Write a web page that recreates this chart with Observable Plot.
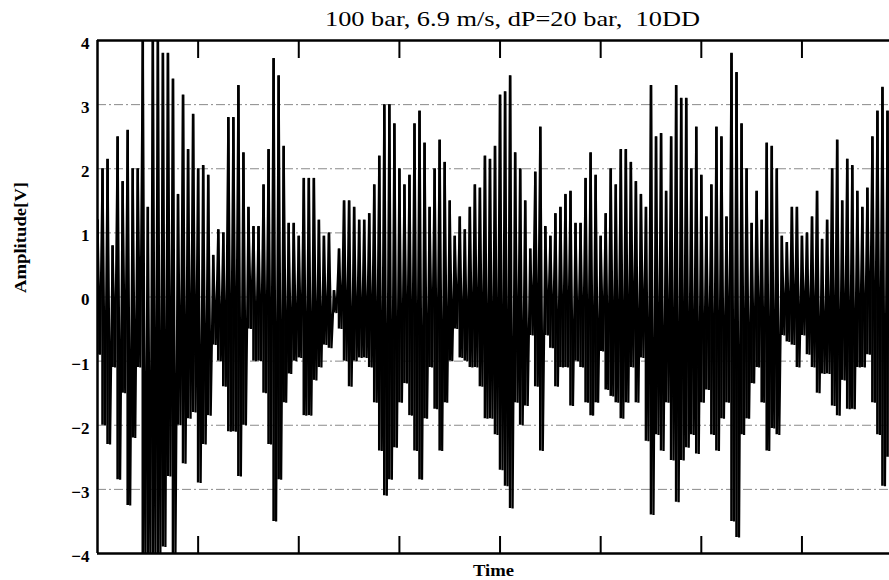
<!DOCTYPE html>
<html>
<head>
<meta charset="utf-8">
<script src="https://cdn.jsdelivr.net/npm/d3@7"></script>
<script src="https://cdn.jsdelivr.net/npm/@observablehq/plot@0.6"></script>
<style>
  html, body { margin: 0; padding: 0; background: white; overflow: hidden; }
</style>
</head>
<body>
<div id="chart"></div>
<script>
const title = "100 bar, 6.9 m/s, dP=20 bar,  10DD";
const xLabel = "Time";
const yLabel = "Amplitude[V]";
const yExtent = [-4, 4];
const yTicks = [-4, -3, -2, -1, 0, 1, 2, 3, 4];
const gridValues = [-3, -2, -1, 0, 1, 2, 3];
const xTicks = [100, 200, 300, 400, 500, 600, 700];
const xDomain = [0, 787];
const sampleStep = 5;

// positive peak envelope, one value per sample
const upper = [
  1.2, 2.0, 2.15, 0.8, 2.5, 1.8, 2.6, 2.0, 2.0, 4.0,
  1.4, 4.0, 4.0, 3.8, 3.8, 3.4, 1.6, 3.15, 2.3, 2.85,
  2.0, 2.05, 1.9, 0.65, 1.05, 1.0, 2.8, 2.8, 3.3, 2.25,
  1.4, 1.1, 1.1, 1.75, 2.3, 3.72, 3.45, 2.35, 1.15, 1.15,
  0.95, 1.85, 1.85, 1.85, 1.2, 0.95, 1.0, 0.1, 0.75, 1.5,
  1.5, 1.4, 1.2, 1.2, 1.3, 1.75, 2.2, 3.0, 3.0, 2.7,
  2.0, 1.75, 1.9, 2.7, 2.9, 2.4, 1.4, 2.0, 2.45, 2.1,
  1.5, 0.95, 1.25, 1.05, 1.4, 1.75, 1.7, 2.2, 2.15, 2.35,
  3.15, 3.2, 3.45, 2.25, 2.0, 1.5, 0.75, 1.95, 2.65, 1.1,
  0.95, 1.3, 1.4, 1.6, 1.65, 1.15, 1.15, 1.85, 2.25, 1.9,
  0.95, 1.3, 2.0, 1.75, 2.3, 2.3, 2.1, 1.8, 1.6, 1.4,
  3.3, 2.5, 2.55, 1.65, 2.5, 3.3, 3.1, 3.1, 2.0, 2.65,
  1.9, 1.25, 1.75, 2.65, 2.5, 1.25, 3.8, 3.5, 2.7, 2.0,
  1.15, 1.65, 1.2, 2.4, 2.35, 2.0, 0.95, 0.85, 1.4, 1.4,
  0.95, 1.0, 1.25, 1.65, 0.9, 1.2, 2.0, 2.45, 1.5, 2.15,
  2.05, 1.65, 1.4, 1.7, 2.5, 2.9, 3.27, 2.9, 2.1
];

// negative peak envelope, one value per sample
const lower = [
  -0.9, -2.0, -2.3, -1.1, -2.85, -1.5, -3.25, -2.2, -1.1, -4.0,
  -4.0, -4.0, -4.0, -3.9, -2.8, -4.0, -2.0, -2.6, -1.9, -1.8,
  -2.9, -2.3, -1.85, -0.75, -1.0, -1.4, -2.1, -2.1, -2.8, -2.0,
  -0.5, -1.0, -1.0, -1.5, -2.3, -3.5, -2.85, -1.65, -1.2, -1.0,
  -0.95, -1.85, -1.85, -1.3, -1.1, -0.75, -0.8, -0.25, -0.5, -1.0,
  -1.4, -1.0, -0.95, -0.95, -1.1, -1.65, -2.4, -3.1, -2.85, -2.35,
  -1.65, -1.35, -1.85, -2.4, -2.85, -1.9, -1.1, -1.75, -2.4, -1.65,
  -1.0, -0.5, -0.95, -1.0, -1.1, -1.1, -1.4, -1.9, -1.9, -2.15,
  -2.7, -2.95, -3.3, -1.65, -2.0, -1.7, -0.6, -1.4, -2.4, -0.6,
  -0.8, -1.4, -1.1, -1.1, -1.7, -1.0, -1.1, -1.65, -1.85, -1.65,
  -0.85, -1.45, -1.55, -1.65, -1.9, -1.65, -1.1, -1.65, -0.95, -2.25,
  -3.4, -2.15, -2.4, -1.65, -2.55, -3.2, -2.55, -2.35, -2.15, -2.45,
  -1.65, -1.45, -2.15, -2.4, -1.9, -1.65, -3.5, -3.75, -2.15, -1.9,
  -1.35, -1.1, -1.65, -2.4, -2.05, -2.15, -0.6, -0.7, -0.75, -1.1,
  -0.6, -0.9, -1.1, -1.5, -1.2, -1.2, -1.7, -1.85, -1.3, -1.75,
  -1.75, -1.1, -1.1, -0.9, -1.65, -2.15, -2.95, -2.5, -1.85
];

const time = upper.map((_, i) => i * sampleStep);
const peaks = time.map((t, i) => ({t, hi: upper[i], lo: lower[i]}));
const signal = time.flatMap((t, i) => [
  {t, v: upper[i]},
  {t: t + sampleStep / 2, v: lower[i]}
]);

const chart = Plot.plot({
  width: 889,
  height: 580,
  marginLeft: 97,
  marginRight: 0,
  marginTop: 40,
  marginBottom: 27,
  style: {fontFamily: "'Liberation Serif', 'Times New Roman', serif", fontSize: "16px", color: "black", background: "white"},
  x: {domain: xDomain},
  y: {domain: yExtent},
  marks: [
    Plot.ruleY(gridValues, {stroke: "#8a8a8a", strokeWidth: 1, strokeDasharray: "9,3,2,3"}),
    Plot.ruleX(peaks, {x: "t", y1: "lo", y2: "hi", stroke: "black", strokeWidth: 2.6, clip: true}),
    Plot.line(signal, {x: "t", y: "v", stroke: "black", strokeWidth: 2.2, strokeLinejoin: "bevel", clip: true}),
    Plot.ruleY(yExtent, {stroke: "black", strokeWidth: 2.5}),
    Plot.ruleX([time[0]], {stroke: "black", strokeWidth: 2.5}),
    Plot.axisX(xTicks, {anchor: "bottom", tickSize: -17, strokeWidth: 2, tickFormat: () => "", label: null}),
    Plot.axisX(xTicks, {anchor: "top", tickSize: -17, strokeWidth: 2, tickFormat: () => "", label: null}),
    Plot.axisY(yTicks, {anchor: "left", tickSize: 0, tickPadding: 8, tickFormat: d3.format("d"), fontWeight: "bold", fontSize: 17, label: null, dy: 3}),
    Plot.text([title], {frameAnchor: "top", dx: 19, dy: -15, lineAnchor: "bottom", fontSize: 22}),
    Plot.text([xLabel], {frameAnchor: "bottom", dy: 22, lineAnchor: "bottom", fontSize: 16, fontWeight: "bold"}),
    Plot.text([yLabel], {frameAnchor: "left", dx: -77, dy: -4, rotate: -90, fontSize: 16, fontWeight: "bold"})
  ]
});

d3.select(chart).selectAll("text").each(function () {
  const s = this.textContent;
  if (s === title) {
    this.setAttribute("textLength", 375);
    this.setAttribute("lengthAdjust", "spacingAndGlyphs");
  } else if (s === yLabel) {
    this.setAttribute("textLength", 111);
    this.setAttribute("lengthAdjust", "spacingAndGlyphs");
  } else if (s === xLabel) {
    this.setAttribute("textLength", 41);
    this.setAttribute("lengthAdjust", "spacingAndGlyphs");
  }
});

document.getElementById("chart").appendChild(chart);
</script>
</body>
</html>
